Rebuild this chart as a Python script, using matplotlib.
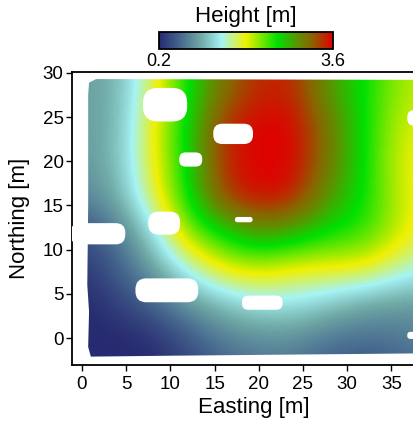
import numpy as np
import matplotlib.pyplot as plt
from matplotlib.colors import LinearSegmentedColormap
from matplotlib.patches import Polygon, FancyBboxPatch

plt.rcParams['font.family'] = ['Liberation Sans', 'DejaVu Sans']

# grid nodes (m) and surveyed height (m), rows go south -> north
easting = [0, 4, 8, 12, 16, 20, 24, 28, 32, 36, 40]
northing = [-4, 0, 4, 8, 12, 16, 20, 24, 28, 32]
height = [
    [0.20, 0.20, 0.20, 0.35, 0.55, 0.65, 0.65, 0.50, 0.45, 0.55, 0.65],
    [0.20, 0.20, 0.25, 0.50, 0.75, 0.85, 0.85, 0.70, 0.65, 0.70, 0.80],
    [0.20, 0.35, 0.60, 0.90, 1.15, 1.35, 1.35, 1.20, 1.00, 0.95, 0.90],
    [0.30, 0.55, 0.95, 1.50, 1.95, 2.05, 1.90, 1.90, 1.90, 1.60, 1.45],
    [0.45, 0.70, 1.30, 2.20, 2.55, 2.90, 2.75, 2.50, 2.40, 2.00, 1.70],
    [0.80, 1.00, 1.75, 2.50, 3.35, 3.60, 3.50, 2.85, 2.50, 2.00, 1.75],
    [0.90, 1.10, 1.85, 2.55, 3.45, 3.60, 3.60, 3.05, 2.50, 1.95, 1.80],
    [0.95, 1.05, 1.90, 2.55, 3.45, 3.60, 3.60, 3.05, 2.50, 2.00, 1.90],
    [0.95, 1.05, 1.75, 2.50, 3.10, 3.45, 3.45, 2.85, 2.50, 2.10, 2.00],
    [0.95, 1.05, 1.75, 2.50, 3.10, 3.45, 3.45, 2.85, 2.50, 2.10, 2.00],
]

# survey outline
outline_x = [1.0, 0.7, 0.8, 0.6, 0.7, 0.7, 0.8, 1.6, 42.0, 42.0, 10.0]
outline_y = [-2.1, -1.0, 3.0, 6.0, 15.0, 27.5, 28.9, 29.3, 29.2, -1.7, -2.0]

# data gaps: centre, width, height (m)
hole_x = [9.4, 17.1, 12.3, 9.3, 1.8, 18.3, 9.6, 20.4, 38.6, 38.0]
hole_y = [26.4, 23.1, 20.2, 13.0, 11.8, 13.4, 5.4, 4.0, 24.9, 0.3]
hole_w = [5.0, 4.5, 2.6, 3.6, 6.2, 2.0, 7.1, 4.6, 3.6, 2.4]
hole_h = [3.8, 2.3, 1.6, 2.6, 2.4, 0.6, 2.7, 1.6, 1.8, 0.8]

cmap = LinearSegmentedColormap.from_list("height", [
    (0.00, "#262a70"),
    (0.12, "#46678e"),
    (0.24, "#70aaa6"),
    (0.36, "#a6f4f4"),
    (0.50, "#f0f000"),
    (0.68, "#00e000"),
    (0.80, "#5e9000"),
    (0.88, "#8a6400"),
    (1.00, "#e00000"),
])

fig = plt.figure(figsize=(4.13, 4.22), dpi=100)
ax = fig.add_axes([72 / 413, 57 / 422, 364 / 413, 293 / 422])

dx = easting[1] - easting[0]
dy = northing[1] - northing[0]
extent = [easting[0] - dx / 2, easting[-1] + dx / 2,
          northing[0] - dy / 2, northing[-1] + dy / 2]
im = ax.imshow(np.array(height), origin='lower', extent=extent, cmap=cmap,
               vmin=0.2, vmax=3.6, interpolation='bicubic', aspect='auto')
outline = Polygon(list(zip(outline_x, outline_y)), closed=True,
                  transform=ax.transData, facecolor='none', edgecolor='none')
ax.add_patch(outline)
im.set_clip_path(outline)

for cx, cy, w, h in zip(hole_x, hole_y, hole_w, hole_h):
    r = min(w, h) * 0.45
    ax.add_patch(FancyBboxPatch((cx - w / 2 + r, cy - h / 2 + r), w - 2 * r, h - 2 * r,
                                boxstyle=f"round,pad={r}", facecolor='white',
                                edgecolor='none', zorder=3))

ax.set_xlim(-1.13, 40.05)
ax.set_ylim(-3.05, 30.1)
ax.set_xticks(range(0, 40, 5))
ax.set_yticks(range(0, 31, 5))
ax.tick_params(labelsize=13.5, length=4, width=1, direction='out', pad=2)
ax.tick_params(axis='x', pad=4)
for s in ax.spines.values():
    s.set_linewidth(1.3)
ax.set_xlabel("Easting [m]", fontsize=16, labelpad=3)
ax.set_ylabel("Northing [m]", fontsize=16, labelpad=9)

cax = fig.add_axes([159 / 413, 373 / 422, 174 / 413, 17 / 422])
cb = fig.colorbar(im, cax=cax, orientation='horizontal', ticks=[0.2, 3.6])
cb.ax.tick_params(labelsize=13, length=0, pad=3)
cb.outline.set_linewidth(1.3)
cax.set_title("Height [m]", fontsize=16, pad=7)

fig.savefig("out.png", dpi=100)
